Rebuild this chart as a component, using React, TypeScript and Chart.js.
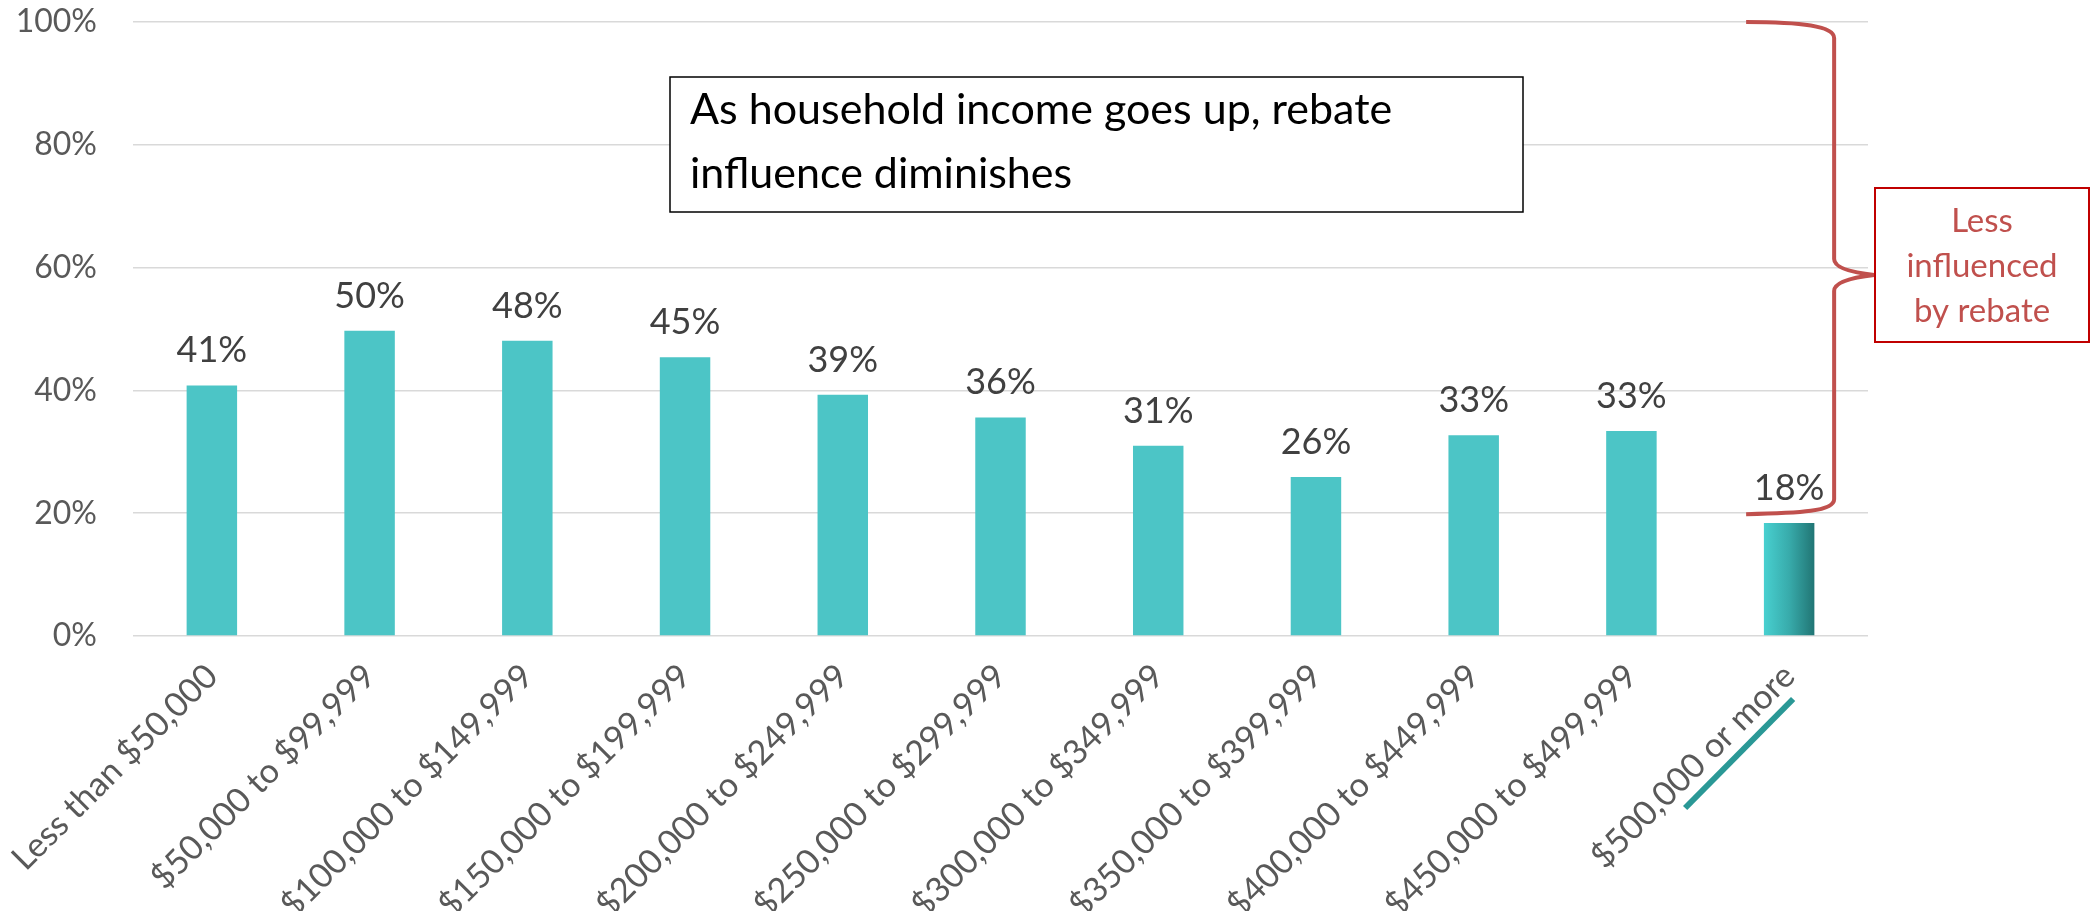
import React, { useEffect, useRef } from "react";
import { Chart, registerables } from "chart.js";

Chart.register(...registerables);

const categories = [
  "Less than $50,000",
  "$50,000 to $99,999",
  "$100,000 to $149,999",
  "$150,000 to $199,999",
  "$200,000 to $249,999",
  "$250,000 to $299,999",
  "$300,000 to $349,999",
  "$350,000 to $399,999",
  "$400,000 to $449,999",
  "$450,000 to $499,999",
  "$500,000 or more",
];
const values = [40.8, 49.7, 48.1, 45.4, 39.3, 35.6, 31.0, 25.9, 32.7, 33.4, 18.4];
const yTickValues = [0, 20, 40, 60, 80, 100];
const noteLines = ["As household income goes up, rebate", "influence diminishes"];
const calloutLines = ["Less", "influenced", "by rebate"];
const braceTop = 100;
const braceBottom = 20;
const braceTip = 58.8;
const highlightIndex = 10;

const W = 2095;
const H = 911;
const BAR_PCT = 0.32;

const overlayPlugin = {
  id: "overlay",
  afterDatasetsDraw(chart: any) {
    const ctx = chart.ctx;
    const meta = chart.getDatasetMeta(0);
    ctx.save();
    ctx.font = "36px Lato";
    ctx.fillStyle = "#404040";
    ctx.textAlign = "center";
    ctx.textBaseline = "alphabetic";
    meta.data.forEach((bar: any, i: number) => {
      ctx.fillText(Math.round(values[i]) + "%", bar.x, bar.y - 23);
    });
    ctx.restore();
  },
  afterDraw(chart: any) {
    const ctx = chart.ctx;
    const xs = chart.scales.x;
    const ys = chart.scales.y;
    const cx = xs.getPixelForValue(highlightIndex);

    // Annotation box
    ctx.save();
    ctx.fillStyle = "#ffffff";
    ctx.fillRect(670, 77, 853, 135);
    ctx.strokeStyle = "#000000";
    ctx.lineWidth = 1.5;
    ctx.strokeRect(670, 77, 853, 135);
    ctx.fillStyle = "#000000";
    ctx.font = "43px Lato";
    ctx.textAlign = "left";
    ctx.textBaseline = "alphabetic";
    ctx.fillText(noteLines[0], 690, 124);
    ctx.fillText(noteLines[1], 690, 188);
    ctx.restore();

    // Brace
    const yT = ys.getPixelForValue(braceTop);
    const yB = ys.getPixelForValue(braceBottom);
    const yM = ys.getPixelForValue(braceTip);
    const xL = cx - 43;
    const xV = cx + 45;
    const xTip = cx + 85;
    ctx.save();
    ctx.strokeStyle = "#c0504d";
    ctx.lineWidth = 4;
    ctx.lineCap = "butt";
    ctx.lineJoin = "round";
    ctx.beginPath();
    ctx.moveTo(xL, yT);
    ctx.bezierCurveTo(xL + 55, yT, xV, yT + 4, xV, yT + 16);
    ctx.lineTo(xV, yM - 16);
    ctx.bezierCurveTo(xV, yM - 6, xV + 22, yM - 2, xTip, yM);
    ctx.bezierCurveTo(xV + 22, yM + 2, xV, yM + 6, xV, yM + 16);
    ctx.lineTo(xV, yB - 14);
    ctx.bezierCurveTo(xV, yB - 2, xL + 55, yB, xL, yB + 1);
    ctx.stroke();
    ctx.restore();

    // Callout box
    ctx.save();
    ctx.fillStyle = "#ffffff";
    ctx.fillRect(1875, 188, 214, 154);
    ctx.strokeStyle = "#c00000";
    ctx.lineWidth = 2;
    ctx.strokeRect(1875, 188, 214, 154);
    ctx.fillStyle = "#c0504d";
    ctx.font = "33px Lato";
    ctx.textAlign = "center";
    ctx.textBaseline = "alphabetic";
    calloutLines.forEach((t, i) => ctx.fillText(t, 1982, 232 + i * 45));
    ctx.restore();

    // Underline on last category label
    ctx.save();
    ctx.strokeStyle = "#2a9896";
    ctx.lineWidth = 6;
    ctx.beginPath();
    ctx.moveTo(cx - 104, 808);
    ctx.lineTo(cx + 4, 699);
    ctx.stroke();
    ctx.restore();
  },
};

export default function App() {
  const canvasRef = useRef<HTMLCanvasElement | null>(null);

  useEffect(() => {
    let chart: any = null;
    let cancelled = false;
    const make = () => {
      if (cancelled || !canvasRef.current) return;
      chart = new Chart(canvasRef.current, {
        type: "bar",
        data: {
          labels: categories,
          datasets: [
            {
              data: values,
              barPercentage: BAR_PCT,
              categoryPercentage: 1,
              borderWidth: 0,
              backgroundColor: (c: any) => {
                if (c.dataIndex !== highlightIndex) return "#4cc5c6";
                const ch = c.chart;
                if (!ch.chartArea || !ch.scales.x) return "#3aaeae";
                const xs = ch.scales.x;
                const center = xs.getPixelForValue(highlightIndex);
                const half = (xs.width / categories.length) * BAR_PCT / 2;
                const g = ch.ctx.createLinearGradient(center - half, 0, center + half, 0);
                g.addColorStop(0, "#48d0d0");
                g.addColorStop(0.5, "#38abab");
                g.addColorStop(1, "#217574");
                return g;
              },
            },
          ],
        },
        options: {
          responsive: false,
          animation: false,
          devicePixelRatio: 1,
          layout: { padding: { left: 0, right: W - 1868, top: 22, bottom: 0 } },
          plugins: { legend: { display: false }, tooltip: { enabled: false } },
          scales: {
            x: {
              grid: { display: false, drawTicks: false, tickLength: 0 },
              border: { display: false },
              ticks: {
                autoSkip: false,
                minRotation: 45,
                maxRotation: 45,
                padding: 20,
                color: "#595959",
                font: { family: "Lato", size: 34 },
              },
              afterFit: (s: any) => {
                s.height = H - 636;
                s.paddingLeft = 0;
                s.paddingRight = 0;
              },
            },
            y: {
              min: 0,
              max: 100,
              afterBuildTicks: (s: any) => {
                s.ticks = yTickValues.map((v) => ({ value: v }));
              },
              grid: { color: "#d9d9d9", lineWidth: 1.5, drawTicks: false, tickLength: 0 },
              border: { display: false },
              ticks: {
                padding: 36,
                color: "#595959",
                font: { family: "Lato", size: 32 },
                callback: (v: any) => v + "%",
              },
              afterFit: (s: any) => {
                s.width = 133;
                s.paddingTop = 0;
                s.paddingBottom = 0;
              },
            },
          },
        },
        plugins: [overlayPlugin],
      });
    };
    const fonts: any = (document as any).fonts;
    if (fonts && fonts.load) {
      Promise.all([fonts.load("32px Lato"), fonts.load("43px Lato")])
        .catch(() => null)
        .then(make);
    } else {
      make();
    }
    return () => {
      cancelled = true;
      if (chart) chart.destroy();
    };
  }, []);

  return (
    <div style={{ position: "fixed", left: 0, top: 0, width: W, height: H, background: "#fff" }}>
      <canvas ref={canvasRef} width={W} height={H} style={{ display: "block", width: W, height: H }} />
    </div>
  );
}
